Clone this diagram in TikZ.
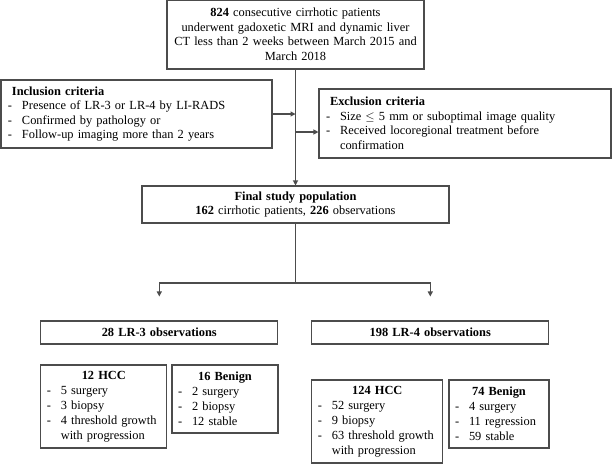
\documentclass[tikz,border=0pt]{standalone}
\usepackage{fontspec}
\setmainfont{Liberation Serif}
\usetikzlibrary{arrows.meta}
\definecolor{framegray}{gray}{0.3}
\newcommand{\bul}{\makebox[14pt][l]{-}}
\newcommand{\bulgap}{\hspace*{14pt}}

\begin{document}
\begin{tikzpicture}[x=1pt,y=-1pt,
    flowbox/.style={draw=framegray, line width=1.1pt, inner xsep=7pt, inner ysep=0pt,
      font=\fontsize{12.4}{14.5}\selectfont},
    listbox/.style={flowbox, inner xsep=6pt, align=left, font=\fontsize{12.4}{15}\selectfont},
    flowarrow/.style={draw=framegray, line width=1.1pt, -{Triangle[length=5pt,width=5pt]}}]
  \useasboundingbox (0,0) rectangle (615,464);

  % screening and criteria
  \node[flowbox, inner xsep=3pt, text width=251pt, minimum height=69pt, align=center] (screen) at (295.5,34.5)
    {\textbf{824} consecutive cirrhotic patients\\ underwent gadoxetic MRI and dynamic liver\\
     CT less than 2 weeks between March 2015 and\\ March 2018};
  \node[flowbox, text width=257pt, minimum height=68pt, align=left] (incl) at (136.5,114)
    {\hspace*{4pt}\textbf{Inclusion criteria}\\ \bul Presence of LR-3 or LR-4 by LI-RADS\\
     \bul Confirmed by pathology or\\ \bul Follow-up imaging more than 2 years};
  \node[flowbox, text width=278pt, minimum height=69pt, align=left] (excl) at (465,123.5)
    {\hspace*{4pt}\textbf{Exclusion criteria}\\ \bul Size $\leq$ 5 mm or suboptimal image quality\\
     \bul Received locoregional treatment before\\ \bulgap confirmation};
  \node[flowbox, text width=293pt, minimum height=37pt, align=center] (final) at (295.5,204.5)
    {\textbf{Final study population}\\ \textbf{162} cirrhotic patients, \textbf{226} observations};

  % LI-RADS categories
  \node[flowbox, text width=223pt, minimum height=23pt, align=center] (lrthree) at (159.3,332.5)
    {\textbf{28 LR-3 observations}};
  \node[flowbox, text width=223pt, minimum height=23pt, align=center] (lrfour) at (430.3,332.5)
    {\textbf{198 LR-4 observations}};

  % outcomes
  \node[listbox, text width=114pt, minimum height=83pt] (hccthree) at (103.8,406.5)
    {\centerline{\textbf{12 HCC}} \bul 5 surgery\\ \bul 3 biopsy\\ \bul 4 threshold growth\\ \bulgap with progression};
  \node[listbox, text width=94pt, minimum height=68pt] (benthree) at (225,399)
    {\centerline{\textbf{16 Benign}} \bul 2 surgery\\ \bul 2 biopsy\\ \bul 12 stable};
  \node[listbox, text width=119pt, minimum height=83pt] (hccfour) at (377.3,421.5)
    {\centerline{\textbf{124 HCC}} \bul 52 surgery\\ \bul 9 biopsy\\ \bul 63 threshold growth\\ \bulgap with progression};
  \node[listbox, text width=88pt, minimum height=68pt] (benfour) at (499,414)
    {\centerline{\textbf{74 Benign}} \bul 4 surgery\\ \bul 11 regression\\ \bul 59 stable};

  % connectors
  \coordinate (exclin) at ([yshift=-8.5pt]excl.west);
  \coordinate (split) at (295.5,283);
  \coordinate (lrthreein) at ([yshift=24pt]lrthree.north);
  \coordinate (lrfourin) at ([yshift=24pt]lrfour.north);
  \draw[flowarrow] (screen.south) -- (final.north);
  \draw[flowarrow] (incl.east) -- (incl.east -| screen.south);
  \draw[flowarrow] (exclin -| screen.south) -- (exclin);
  \draw[flowarrow] (final.south) -- (split) -| (lrthreein);
  \draw[flowarrow] (split) -| (lrfourin);
\end{tikzpicture}
\end{document}
